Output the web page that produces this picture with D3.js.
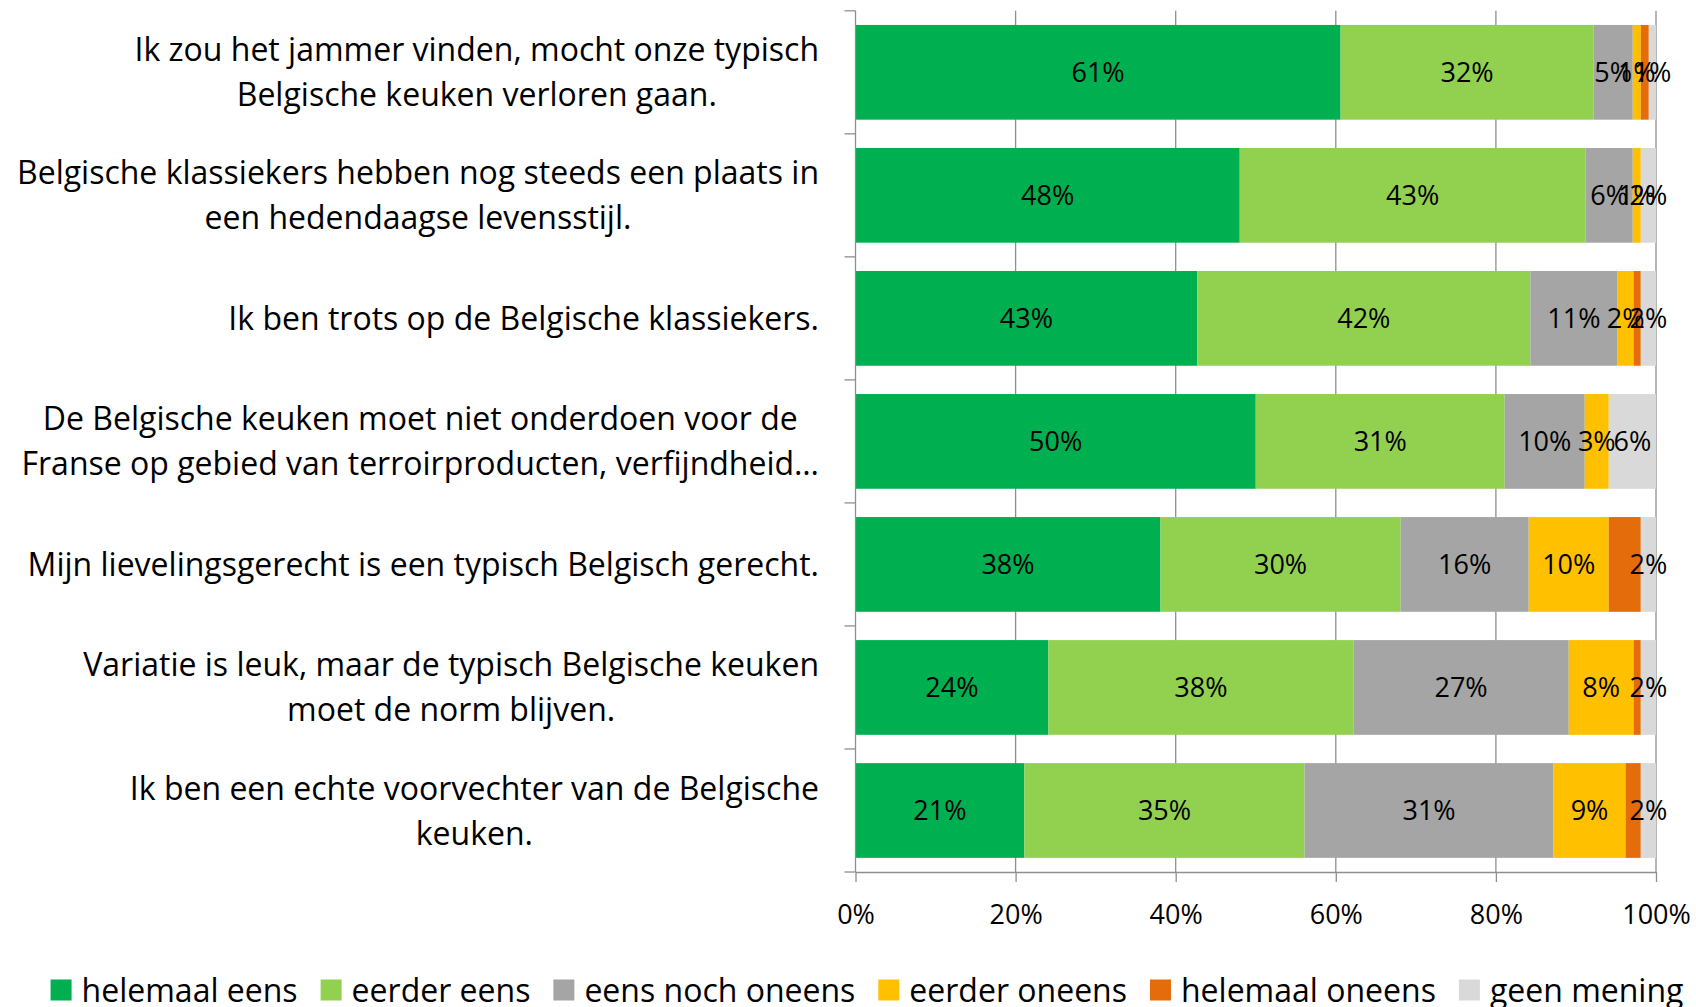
<!DOCTYPE html>
<html lang="nl">
<head>
  <meta charset="utf-8">
  <script src="https://d3js.org/d3.v7.min.js"></script>
  <style>
    body { margin: 0; background: #fff; }
    text { font-family: "Open Sans", sans-serif; fill: #000; }
  </style>
</head>
<body>
<svg id="chart" width="1696" height="1007"></svg>
<script>
  // statements, one array of lines per bar (top to bottom)
  let categories = [
    ["Ik zou het jammer vinden, mocht onze typisch", "Belgische keuken verloren gaan."],
    ["Belgische klassiekers hebben nog steeds een plaats in", "een hedendaagse levensstijl."],
    ["Ik ben trots op de Belgische klassiekers."],
    ["De Belgische keuken moet niet onderdoen voor de", "Franse op gebied van terroirproducten, verfijndheid…"],
    ["Mijn lievelingsgerecht is een typisch Belgisch gerecht."],
    ["Variatie is leuk, maar de typisch Belgische keuken", "moet de norm blijven."],
    ["Ik ben een echte voorvechter van de Belgische", "keuken."]
  ];

  let seriesNames = ["helemaal eens", "eerder eens", "eens noch oneens", "eerder oneens", "helemaal oneens", "geen mening"];
  let seriesColors = ["#00B050", "#92D050", "#A5A5A5", "#FFC000", "#E46C0A", "#D9D9D9"];
  // series without data labels in the original
  let hiddenLabels = ["helemaal oneens"];

  // percentages
  let helemaalEens   = [60.6, 48.0, 42.7, 50.0, 38.1, 24.1, 21.1];
  let eerderEens     = [31.6, 43.2, 41.6, 31.1, 30.0, 38.1, 35.0];
  let eensNochOneens = [4.9, 5.9, 10.9, 10.0, 16.0, 26.9, 31.1];
  let eerderOneens   = [1.0, 1.0, 2.0, 3.0, 10.0, 8.1, 9.0];
  let helemaalOneens = [1.0, 0.0, 0.9, 0.0, 4.0, 0.9, 1.9];
  let geenMening     = [0.9, 1.9, 1.9, 5.9, 1.9, 1.9, 1.9];

  let tickValues = [0, 20, 40, 60, 80, 100];

  let allSeries = [helemaalEens, eerderEens, eensNochOneens, eerderOneens, helemaalOneens, geenMening];
  let table = categories.map((c, i) => {
    let row = { id: i };
    seriesNames.forEach((s, j) => row[s] = allSeries[j][i]);
    return row;
  });

  let svg = d3.select("#chart");

  let plot = { left: 855.5, right: 1656, top: 10.8, bottom: 872 };

  let x = d3.scaleLinear().domain([0, 100]).range([plot.left, plot.right]);
  let y = d3.scaleBand()
    .domain(d3.range(categories.length))
    .range([plot.top, plot.bottom])
    .paddingInner(0.23)
    .paddingOuter(0.115);

  let color = d3.scaleOrdinal().domain(seriesNames).range(seriesColors);
  let axisColor = "#8f8f8f";

  // vertical gridlines
  svg.append("g").selectAll("line").data(tickValues.filter(d => d > 0))
    .enter().append("line")
    .attr("x1", d => x(d)).attr("x2", d => x(d))
    .attr("y1", plot.top).attr("y2", plot.bottom)
    .attr("stroke", axisColor).attr("stroke-width", 1.3);

  // stacked bars
  let stacked = d3.stack().keys(seriesNames)(table);

  let layers = svg.append("g").selectAll("g").data(stacked)
    .enter().append("g")
    .attr("fill", d => color(d.key));

  layers.selectAll("rect").data(d => d)
    .enter().append("rect")
    .attr("x", d => x(d[0]))
    .attr("width", d => x(d[1]) - x(d[0]))
    .attr("y", d => y(d.data.id))
    .attr("height", y.bandwidth());

  // data labels
  let labelLayers = svg.append("g").selectAll("g")
    .data(stacked.filter(s => !hiddenLabels.includes(s.key)))
    .enter().append("g");

  labelLayers.selectAll("text").data(d => d.filter(p => p[1] - p[0] > 0))
    .enter().append("text")
    .attr("x", d => x((d[0] + d[1]) / 2))
    .attr("y", d => y(d.data.id) + y.bandwidth() / 2)
    .attr("dy", "0.36em")
    .attr("text-anchor", "middle")
    .attr("font-size", 27)
    .text(d => Math.round(d[1] - d[0]) + "%");

  // x axis
  let xAxis = d3.axisBottom(x)
    .tickValues(tickValues)
    .tickFormat(d => d + "%")
    .tickSize(10)
    .tickSizeOuter(0);

  let gx = svg.append("g")
    .attr("transform", "translate(0," + plot.bottom + ")")
    .call(xAxis);
  gx.select(".domain").attr("stroke", axisColor).attr("stroke-width", 1.3);
  gx.selectAll(".tick line").attr("stroke", axisColor).attr("stroke-width", 1.3);
  gx.selectAll(".tick text")
    .attr("y", 42).attr("dy", "0.36em")
    .attr("font-size", 27)
    .attr("font-family", "Open Sans, sans-serif")
    .attr("fill", "#000");

  // category axis with ticks between the bars
  let gy = svg.append("g");
  gy.append("line")
    .attr("x1", plot.left).attr("x2", plot.left)
    .attr("y1", plot.top).attr("y2", plot.bottom)
    .attr("stroke", axisColor).attr("stroke-width", 1.3);
  gy.selectAll(".catTick").data(d3.range(categories.length + 1))
    .enter().append("line")
    .attr("class", "catTick")
    .attr("x1", plot.left - 11).attr("x2", plot.left)
    .attr("y1", i => plot.top + i * y.step())
    .attr("y2", i => plot.top + i * y.step())
    .attr("stroke", axisColor).attr("stroke-width", 1.3);

  // category labels, lines centred inside a right aligned block
  let labelRight = 819;
  let lineGap = 45;
  categories.forEach((lines, i) => {
    let g = svg.append("g");
    let texts = g.selectAll("text").data(lines)
      .enter().append("text")
      .attr("font-size", 32)
      .attr("text-anchor", "middle")
      .attr("dy", "0.36em")
      .attr("y", (d, k) => y(i) + y.bandwidth() / 2 + (k - (lines.length - 1) / 2) * lineGap)
      .text(d => d);
    let maxW = d3.max(texts.nodes(), n => n.getComputedTextLength());
    texts.attr("x", labelRight - maxW / 2);
  });

  // legend
  let legend = svg.append("g");
  let cursor = 0;
  seriesNames.forEach((s, i) => {
    let item = legend.append("g").attr("transform", "translate(" + cursor + ",0)");
    item.append("rect")
      .attr("x", 0).attr("y", -10.5)
      .attr("width", 21).attr("height", 21)
      .attr("fill", color(s));
    let t = item.append("text")
      .attr("x", 31).attr("y", 0).attr("dy", "0.36em")
      .attr("font-size", 32)
      .text(s);
    cursor += 31 + t.node().getComputedTextLength() + 23;
  });
  let legendWidth = cursor - 23;
  legend.attr("transform", "translate(" + (867 - legendWidth / 2) + ",990)");
</script>
</body>
</html>
